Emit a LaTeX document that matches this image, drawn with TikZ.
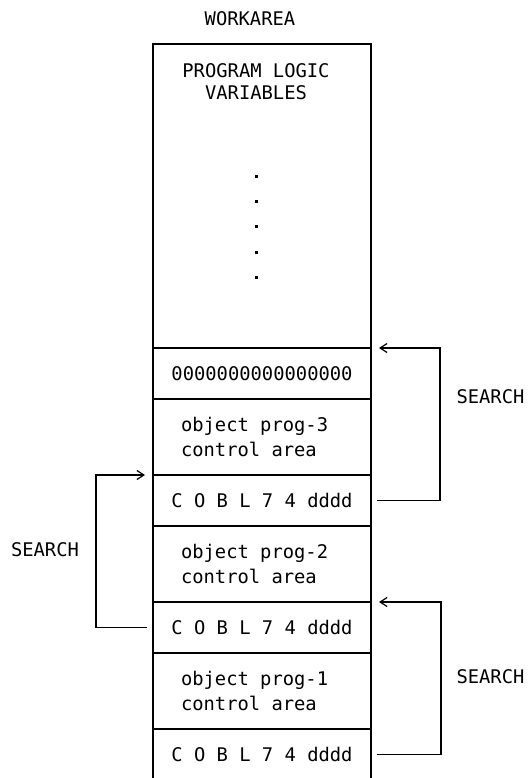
\documentclass[tikz,border=0pt]{standalone}
\usepackage{fontspec}
\setmonofont{DejaVu Sans Mono}
\usetikzlibrary{positioning,arrows.meta}

\begin{document}
\begin{tikzpicture}[
            font=\ttfamily\fontsize{9.4}{12.5}\selectfont,
            line width=0.6pt,
            cell/.style={draw, rectangle, minimum width=109pt, outer sep=0pt, inner sep=0pt},
            slot/.style={cell, minimum height=25.5pt},
            ctrl/.style={cell, minimum height=38pt, align=left, text width=81pt, inner xsep=14pt,
                execute at begin node={\spaceskip=0pt\xspaceskip=0pt\relax}},
            search/.style={-{Straight Barb[length=3.5pt,width=4.5pt]}}
        ]
            \useasboundingbox (0,0) rectangle (264pt,-389pt);

            \node (title) at(125pt,-9.5pt) {WORKAREA};

            % the work area, cell by cell
            \node[cell, minimum height=152pt, anchor=north] (logic) at(131pt,-22pt) {};
            \node[slot, below=0pt of logic] (zeros) {0000000000000000};
            \node[ctrl, below=0pt of zeros] (prog3) {object prog-3\\control area};
            \node[slot, below=0pt of prog3] (cobl3) {C O B L 7 4 dddd};
            \node[ctrl, below=0pt of cobl3] (prog2) {object prog-2\\control area};
            \node[slot, below=0pt of prog2] (cobl2) {C O B L 7 4 dddd};
            \node[ctrl, below=0pt of cobl2] (prog1) {object prog-1\\control area};
            \node[slot, below=0pt of prog1] (cobl1) {C O B L 7 4 dddd};

            \node[anchor=north, inner sep=0pt, align=center, font=\ttfamily\fontsize{9.4}{11}\selectfont,
                execute at begin node={\spaceskip=0pt\xspaceskip=0pt\relax}] (heading) at([xshift=-3pt,yshift=-9.6pt]logic.north) {PROGRAM LOGIC\\VARIABLES};
            \foreach \y in {87.5,100,112.5,125.5,138}
                \fill ({127.25pt},{-\y pt}) rectangle ++(1.5pt,-1.5pt);

            % search chains
            \draw[search] ([xshift=3pt]cobl3.east) -- ++(31.5pt,0) |- ([xshift=4pt]zeros.north east);
            \draw[search] ([xshift=-3pt]cobl2.west) -- ++(-25.5pt,0) |- ([xshift=-4pt]cobl3.north west);
            \draw[search] ([xshift=3pt]cobl1.east) -- ++(32pt,0) |- ([xshift=4pt]cobl2.north east);

            \node (find3) at(245.25pt,-198.5pt) {SEARCH};
            \node (find2) at(22.5pt,-275pt) {SEARCH};
            \node (find1) at(245.25pt,-338.5pt) {SEARCH};
        \end{tikzpicture}
\end{document}
